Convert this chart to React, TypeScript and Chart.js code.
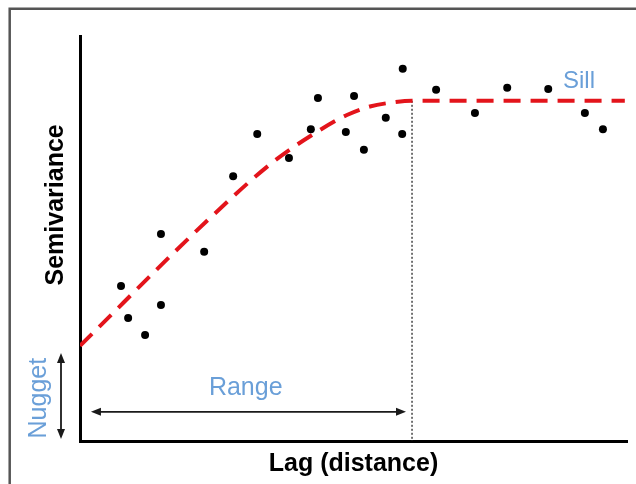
import React, { useEffect, useRef } from "react";
import { Chart, registerables } from "chart.js";

Chart.register(...registerables);

// Empirical semivariogram points (lag, semivariance)
const lagValues = [7.5, 8.8, 11.9, 14.8, 14.8, 22.7, 28.0, 32.4, 38.2, 42.2, 43.5, 48.6, 50.1, 51.9, 55.9, 59.0, 58.9, 65.1, 72.2, 78.1, 85.6, 92.3, 95.6];
const semivarianceValues = [38.3, 30.4, 26.2, 51.1, 33.6, 46.7, 65.4, 75.8, 69.9, 77.0, 84.7, 76.3, 85.2, 71.9, 79.8, 91.9, 75.8, 86.7, 81.0, 87.2, 86.9, 81.0, 77.0];

// Fitted model curve (red dashed)
const modelLag = [0, 23.8, 35.3, 43.9, 48.8, 53.0, 57.2, 60.7, 99.6];
const modelGamma = [23.5, 55.1, 68.9, 76.8, 80.5, 82.6, 83.6, 84.0, 84.0];

// Model parameters / annotation values
const NUGGET = 23.5;
const SILL = 84;
const RANGE = 60.7;
const rangeArrowLag = [2.0, 59.6];
const rangeArrowGamma = 7.2;
const nuggetArrowGamma = [0.5, 21.7];

// Texts
const xTitle = "Lag (distance)";
const yTitle = "Semivariance";
const sillLabel = "Sill";
const rangeLabel = "Range";
const nuggetLabel = "Nugget";

const BLUE = "#6a9fd8";
const FONT = "'Liberation Sans', Arial, Helvetica, sans-serif";

function drawArrowHead(ctx: CanvasRenderingContext2D, x: number, y: number, angle: number) {
  const len = 10;
  const half = 4;
  ctx.save();
  ctx.translate(x, y);
  ctx.rotate(angle);
  ctx.beginPath();
  ctx.moveTo(0, 0);
  ctx.lineTo(-len, -half);
  ctx.lineTo(-len, half);
  ctx.closePath();
  ctx.fill();
  ctx.restore();
}

function drawDoubleArrow(ctx: CanvasRenderingContext2D, x1: number, y1: number, x2: number, y2: number) {
  const angle = Math.atan2(y2 - y1, x2 - x1);
  ctx.save();
  ctx.strokeStyle = "#1a1a1a";
  ctx.fillStyle = "#1a1a1a";
  ctx.lineWidth = 1.8;
  ctx.beginPath();
  ctx.moveTo(x1 + Math.cos(angle) * 5, y1 + Math.sin(angle) * 5);
  ctx.lineTo(x2 - Math.cos(angle) * 5, y2 - Math.sin(angle) * 5);
  ctx.stroke();
  drawArrowHead(ctx, x2, y2, angle);
  drawArrowHead(ctx, x1, y1, angle + Math.PI);
  ctx.restore();
}

const annotationPlugin = {
  id: "variogramAnnotations",
  beforeDraw(chart: any) {
    const { ctx, width, height } = chart;
    ctx.save();
    ctx.fillStyle = "#ffffff";
    ctx.fillRect(0, 0, width, height);
    ctx.strokeStyle = "#555555";
    ctx.lineWidth = 2.5;
    ctx.beginPath();
    ctx.moveTo(9.7, height);
    ctx.lineTo(9.7, 8.7);
    ctx.lineTo(width, 8.7);
    ctx.stroke();
    ctx.restore();
  },
  afterDatasetsDraw(chart: any) {
    const { ctx, chartArea } = chart;
    const xs = chart.scales.x;
    const ys = chart.scales.y;

    // Range arrow
    drawDoubleArrow(
      ctx,
      xs.getPixelForValue(rangeArrowLag[0]),
      ys.getPixelForValue(rangeArrowGamma),
      xs.getPixelForValue(rangeArrowLag[1]),
      ys.getPixelForValue(rangeArrowGamma)
    );

    // Nugget arrow (left of the y axis)
    const nx = chartArea.left - 19;
    drawDoubleArrow(ctx, nx, ys.getPixelForValue(nuggetArrowGamma[1]), nx, ys.getPixelForValue(nuggetArrowGamma[0]));

    ctx.save();
    // Sill label
    ctx.fillStyle = BLUE;
    ctx.font = `24px ${FONT}`;
    ctx.textAlign = "left";
    ctx.textBaseline = "alphabetic";
    ctx.fillText(sillLabel, xs.getPixelForValue(88.3), ys.getPixelForValue(SILL + 3.2));

    // Range label
    ctx.font = `25px ${FONT}`;
    ctx.textAlign = "center";
    ctx.fillText(rangeLabel, xs.getPixelForValue(30.3), ys.getPixelForValue(11.4));

    // Nugget label (rotated)
    ctx.save();
    ctx.translate(chartArea.left - 34, ys.getPixelForValue(NUGGET * 0.45));
    ctx.rotate(-Math.PI / 2);
    ctx.textAlign = "center";
    ctx.fillText(nuggetLabel, 0, 0);
    ctx.restore();

    // Y axis title (rotated)
    ctx.save();
    ctx.fillStyle = "#000000";
    ctx.font = `bold 25px ${FONT}`;
    ctx.translate(chartArea.left - 17, ys.getPixelForValue(58.3));
    ctx.rotate(-Math.PI / 2);
    ctx.textAlign = "center";
    ctx.fillText(yTitle, 0, 0);
    ctx.restore();

    ctx.restore();
  },
};

export default function App() {
  const canvasRef = useRef<HTMLCanvasElement | null>(null);

  useEffect(() => {
    if (!canvasRef.current) return;
    Chart.defaults.font.family = FONT;
    const chart = new Chart(canvasRef.current, {
      type: "scatter",
      data: {
        datasets: [
          {
            type: "scatter",
            label: "Empirical",
            data: lagValues.map((x, i) => ({ x, y: semivarianceValues[i] })),
            backgroundColor: "#000000",
            borderColor: "#000000",
            pointRadius: 4,
            pointBorderWidth: 0,
          },
          {
            type: "line",
            label: "Model",
            data: modelLag.map((x, i) => ({ x, y: modelGamma[i] })),
            borderColor: "#e3141b",
            borderWidth: 4,
            borderDash: [17, 10],
            pointRadius: 0,
            cubicInterpolationMode: "monotone",
            fill: false,
          },
          {
            type: "line",
            label: "Range",
            data: [
              { x: RANGE, y: SILL },
              { x: RANGE, y: 0 },
            ],
            borderColor: "#444444",
            borderWidth: 1.5,
            borderDash: [2, 2],
            pointRadius: 0,
            fill: false,
          },
        ],
      } as any,
      options: {
        animation: false,
        responsive: false,
        events: [],
        layout: { padding: { left: 80, right: 9, top: 36, bottom: 0 } },
        plugins: {
          legend: { display: false },
          tooltip: { enabled: false },
          title: { display: false },
        },
        scales: {
          x: {
            type: "linear",
            min: 0,
            max: 100,
            grid: { display: false, drawTicks: false },
            ticks: { display: false },
            border: { display: true, color: "#000000", width: 3 },
            title: {
              display: true,
              text: xTitle,
              color: "#000000",
              font: { size: 25, weight: "bold", family: FONT, lineHeight: 1.2 },
              padding: { top: 8, bottom: 5 },
            },
          },
          y: {
            type: "linear",
            min: 0,
            max: 100,
            grid: { display: false, drawTicks: false },
            ticks: { display: false },
            border: { display: true, color: "#000000", width: 3 },
            title: { display: false },
          },
        },
      } as any,
      plugins: [annotationPlugin],
    });
    return () => chart.destroy();
  }, []);

  return (
    <div style={{ position: "absolute", left: 0, top: 0, width: 636, height: 484 }}>
      <canvas ref={canvasRef} width={636} height={484} style={{ display: "block", width: 636, height: 484 }} />
    </div>
  );
}
